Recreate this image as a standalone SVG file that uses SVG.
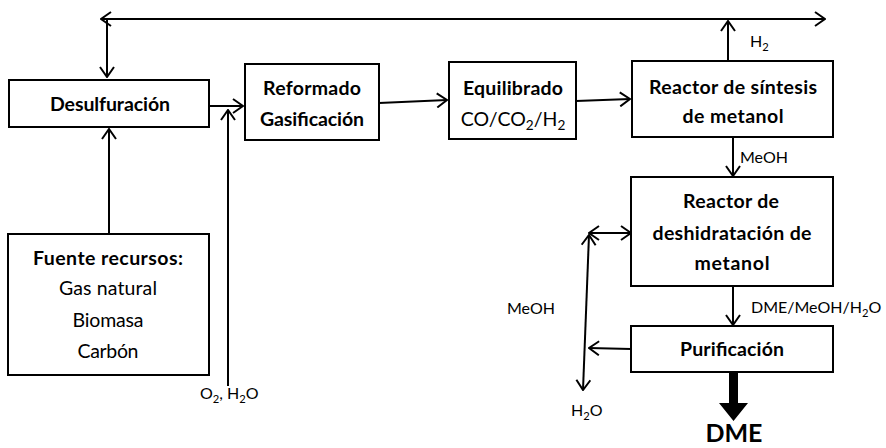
<svg xmlns="http://www.w3.org/2000/svg" width="886" height="448" viewBox="0 0 886 448">
<style>
  .box{fill:#fff;stroke:#000;stroke-width:2}
  .t{font-family:Lato,"Open Sans","Liberation Sans",sans-serif;font-size:19.5px;font-weight:bold;text-anchor:middle;fill:#000}
  .r{font-family:Lato,"Open Sans","Liberation Sans",sans-serif;font-size:19.5px;text-anchor:middle;fill:#000}
  .l{font-family:Lato,"Open Sans","Liberation Sans",sans-serif;font-size:16px;fill:#000}
  .c{fill:none;stroke:#000;stroke-width:2}
  .s{font-size:70%}
</style>
<defs>
  <marker id="a" viewBox="0 0 12 16" refX="11" refY="8" markerWidth="12" markerHeight="16" markerUnits="userSpaceOnUse" orient="auto-start-reverse">
    <path d="M1,1 L11,8 L1,15" fill="none" stroke="#000" stroke-width="2"/>
  </marker>
</defs>
<g id="connectors">
  <line class="c" x1="101" y1="19" x2="825" y2="19" marker-start="url(#a)" marker-end="url(#a)"/>
  <line class="c" x1="107" y1="20" x2="107" y2="77" marker-end="url(#a)"/>
  <line class="c" x1="209" y1="106" x2="243" y2="106" marker-end="url(#a)"/>
  <line class="c" x1="228" y1="386" x2="228" y2="110" marker-end="url(#a)"/>
  <line class="c" x1="109" y1="234" x2="109" y2="129" marker-end="url(#a)"/>
  <line class="c" x1="379" y1="103" x2="447" y2="100" marker-end="url(#a)"/>
  <line class="c" x1="576" y1="101" x2="630" y2="99" marker-end="url(#a)"/>
  <line class="c" x1="728" y1="61" x2="728" y2="21" marker-end="url(#a)"/>
  <line class="c" x1="733" y1="137" x2="733" y2="176" marker-end="url(#a)"/>
  <line class="c" x1="733" y1="286" x2="733" y2="325" marker-end="url(#a)"/>
  <line class="c" x1="631" y1="349" x2="589" y2="348" marker-end="url(#a)"/>
  <line class="c" x1="589" y1="233" x2="631" y2="233" marker-start="url(#a)" marker-end="url(#a)"/>
  <line class="c" x1="589" y1="235" x2="583" y2="390" marker-start="url(#a)" marker-end="url(#a)"/>
  <polygon points="729,372 738,372 738,403 748,403 733.5,421 719,403 729,403" fill="#000"/>
</g>
<g id="desulfuracion">
  <rect class="box" x="9" y="80" width="200" height="47"/>
  <text class="t" x="110" y="111" textLength="120">Desulfuración</text>
</g>
<g id="fuente">
  <rect class="box" x="8" y="234" width="201" height="141"/>
  <text class="t" x="108" y="265" textLength="150">Fuente recursos:</text>
  <text class="r" x="108" y="295" textLength="98">Gas natural</text>
  <text class="r" x="108" y="327" textLength="71">Biomasa</text>
  <text class="r" x="108" y="358" textLength="61">Carbón</text>
</g>
<g id="reformado">
  <rect class="box" x="245" y="64" width="134" height="76"/>
  <text class="t" x="312" y="95" textLength="98">Reformado</text>
  <text class="t" x="312" y="126" textLength="104">Gasificación</text>
</g>
<g id="equilibrado">
  <rect class="box" x="449" y="62" width="127" height="77"/>
  <text class="t" x="513" y="95" textLength="100">Equilibrado</text>
  <text class="r" x="513" y="126">CO/CO<tspan class="s" dy="4">2</tspan><tspan dy="-4">/H</tspan><tspan class="s" dy="4">2</tspan></text>
</g>
<g id="sintesis">
  <rect class="box" x="632" y="61" width="201" height="76"/>
  <text class="t" x="733" y="94" textLength="168">Reactor de síntesis</text>
  <text class="t" x="733" y="123" textLength="101">de metanol</text>
</g>
<g id="deshidratacion">
  <rect class="box" x="631" y="177" width="202" height="109"/>
  <text class="t" x="731" y="208" textLength="96">Reactor de</text>
  <text class="t" x="732" y="240" textLength="159">deshidratación de</text>
  <text class="t" x="732" y="270" textLength="75">metanol</text>
</g>
<g id="purificacion">
  <rect class="box" x="631" y="326" width="202" height="46"/>
  <text class="t" x="732" y="356" textLength="104">Purificación</text>
</g>
<g id="labels">
  <text class="l" x="750" y="47">H<tspan class="s" dy="4">2</tspan></text>
  <text class="l" x="740" y="163">MeOH</text>
  <text class="l" x="751" y="313">DME/MeOH/H<tspan class="s" dy="4">2</tspan><tspan dy="-4">O</tspan></text>
  <text class="l" x="507" y="314">MeOH</text>
  <text class="l" x="571" y="416">H<tspan class="s" dy="4">2</tspan><tspan dy="-4">O</tspan></text>
  <text class="l" x="200" y="399">O<tspan class="s" dy="4">2</tspan><tspan dy="-4">, H</tspan><tspan class="s" dy="4">2</tspan><tspan dy="-4">O</tspan></text>
  <text x="734" y="442" style="font-family:Lato,'Open Sans','Liberation Sans',sans-serif;font-size:25px;font-weight:bold;text-anchor:middle">DME</text>
</g>
</svg>
